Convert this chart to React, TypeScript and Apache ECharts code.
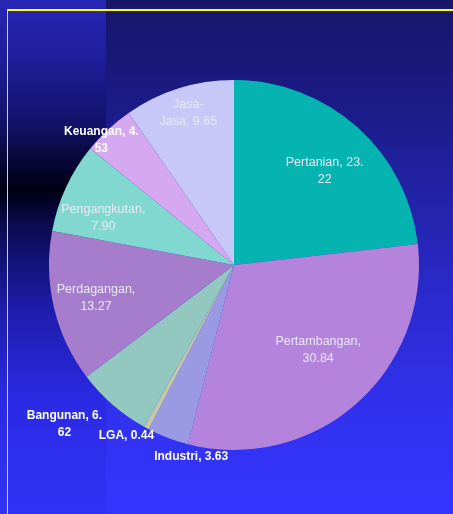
import React, { useEffect, useRef } from "react";
import * as echarts from "echarts";

// Data (percent share by sector)
const sectors = [
  "Pertanian",
  "Pertambangan",
  "Industri",
  "LGA",
  "Bangunan",
  "Perdagangan",
  "Pengangkutan",
  "Keuangan",
  "Jasa-Jasa",
];
const values = [23.22, 30.84, 3.63, 0.44, 6.62, 13.27, 7.9, 4.53, 9.65];
const labelTexts = [
  "Pertanian, 23.\n22",
  "Pertambangan,\n30.84",
  "Industri, 3.63",
  "LGA, 0.44",
  "Bangunan, 6.\n62",
  "Perdagangan,\n13.27",
  "Pengangkutan,\n7.90",
  "Keuangan, 4.\n53",
  "Jasa-\nJasa, 9.65",
];

// Styles / layout
const sliceColors = [
  "#05b4b0",
  "#b484dc",
  "#9a9ae2",
  "#c4c8aa",
  "#92c8c0",
  "#a67ccd",
  "#80d8d0",
  "#d6a8f2",
  "#c8c8f8",
];
// label radial position (fraction of radius) and angular shift (deg, clockwise)
const labelRadius = [0.69, 0.63, 1.04, 1.07, 1.24, 0.75, 0.735, 0.97, 0.845];
const labelShift = [2.2, -3.7, -8.3, 4.1, 5.9, 0, -4.9, -3.8, 0.7];
const labelOutside = [false, false, true, true, true, false, false, true, false];

const CX = 234;
const CY = 265;
const R = 185;

export default function App() {
  const ref = useRef<HTMLDivElement>(null);
  useEffect(() => {
    if (!ref.current) return;
    const chart = echarts.init(ref.current, undefined, { renderer: "svg" });

    const overlays = sectors.map((_, i) => {
      const rc = labelRadius[i] * R;
      return {
        type: "pie",
        silent: true,
        animation: false,
        center: [CX, CY],
        radius: [rc - 20, rc + 20],
        startAngle: 90 - labelShift[i],
        clockwise: true,
        avoidLabelOverlap: false,
        minShowLabelAngle: 0,
        labelLayout: { hideOverlap: false },
        z: 5,
        itemStyle: { color: "transparent", borderWidth: 0 },
        emphasis: { disabled: true },
        labelLine: { show: false },
        data: sectors.map((name, j) => ({
          name,
          value: values[j],
          label: {
            show: j === i,
            position: "inside",
            formatter: labelTexts[j],
            color: labelOutside[j] ? "#ffffff" : "#e8e8f4",
            fontWeight: labelOutside[j] ? "bold" : "normal",
            fontFamily: "Liberation Sans, Arial, sans-serif",
            fontSize: labelOutside[j] ? 12 : 12.5,
            lineHeight: 17,
            align: "center",
            verticalAlign: "middle",
          },
        })),
      };
    });

    chart.setOption({
      animation: false,
      graphic: [
        {
          type: "rect",
          z: -10,
          silent: true,
          shape: { x: 0, y: 0, width: 453, height: 514 },
          style: {
            fill: new echarts.graphic.LinearGradient(0, 0, 0, 1, [
              { offset: 0, color: "#161668" },
              { offset: 0.2, color: "#1b1b86" },
              { offset: 0.4, color: "#2323aa" },
              { offset: 0.6, color: "#2b2bd2" },
              { offset: 0.8, color: "#3131ee" },
              { offset: 1, color: "#3535ff" },
            ]),
          },
        },
        {
          type: "rect",
          z: -9,
          silent: true,
          shape: { x: 0, y: 0, width: 106, height: 514 },
          style: {
            fill: new echarts.graphic.LinearGradient(0, 0, 0, 1, [
              { offset: 0, color: "#2626b6" },
              { offset: 0.12, color: "#1e1e98" },
              { offset: 0.24, color: "#12126a" },
              { offset: 0.33, color: "#05052c" },
              { offset: 0.37, color: "#000012" },
              { offset: 0.44, color: "#0b0b52" },
              { offset: 0.6, color: "#1d1dab" },
              { offset: 0.78, color: "#2a2ae4" },
              { offset: 1, color: "#3232f6" },
            ]),
          },
        },
        {
          type: "line",
          z: 10,
          silent: true,
          shape: { x1: 7, y1: 10, x2: 453, y2: 10 },
          style: { stroke: "#ffff00", lineWidth: 2 },
        },
        {
          type: "line",
          z: 10,
          silent: true,
          shape: { x1: 7.5, y1: 10, x2: 7.5, y2: 514 },
          style: { stroke: "#d8d8a8", lineWidth: 1 },
        },
      ],
      series: [
        {
          type: "pie",
          center: [CX, CY],
          radius: [0, R],
          startAngle: 90,
          clockwise: true,
          silent: true,
          z: 2,
          label: { show: false },
          labelLine: { show: false },
          itemStyle: { borderWidth: 0 },
          data: sectors.map((name, i) => ({
            name,
            value: values[i],
            itemStyle: { color: sliceColors[i] },
          })),
        },
        ...overlays,
      ],
    });
    return () => chart.dispose();
  }, []);
  return (
    <div
      ref={ref}
      style={{ position: "fixed", left: 0, top: 0, width: 453, height: 514 }}
    />
  );
}
